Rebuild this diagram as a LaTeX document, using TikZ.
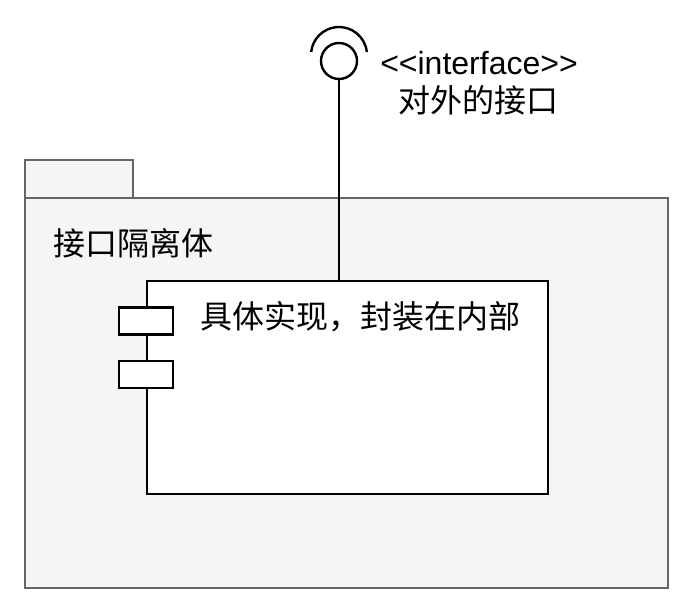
\documentclass[tikz,border=0pt]{standalone}
\usepackage{fontspec}
\usepackage{xcolor}
\newfontfamily\uifont{Liberation Sans}
\newfontfamily\cjk{Noto Sans CJK SC}
\definecolor{pkgfill}{HTML}{F5F5F5}
\definecolor{pkgline}{HTML}{666666}

\begin{document}
\begin{tikzpicture}[x=0.5pt,y=0.5pt,line width=1.2pt,
    pkg/.style={draw=pkgline,fill=pkgfill,line width=1pt},
    label text/.style={font=\cjk\fontsize{16}{19}\selectfont,inner sep=0pt},
    comp/.style={draw,fill=white,rectangle,inner sep=0pt,
        minimum width=200.5pt,minimum height=106.5pt},
    port/.style={draw,fill=white,rectangle,inner sep=0pt,
        minimum width=27pt,minimum height=13.5pt}]

        \useasboundingbox (0,0) rectangle (690,606);

        % ------------------------------------------------ package frame
        \draw[pkg] (25,446) rectangle (133,408);
        \draw[pkg] (25,408) rectangle (668,18);
        \node[label text,anchor=west] (pkgname) at (52,363) {接口隔离体};

        % ------------------------------------------------ component with ports
        \node[comp] (impl) at (347.5,218.5) {};
        \node[label text,anchor=west] (implname) at (199,289) {具体实现，封装在内部};
        \node[port] (porta) at (146,285) {};
        \node[port] (portb) at (146,231.5) {};

        % ------------------------------------------------ provided interface
        \node[draw,circle,inner sep=0pt,minimum size=18pt] (lolly) at (339,545) {};
        \draw (339,551) ++(6:28) arc[start angle=6,end angle=174,radius=28];
        \draw (lolly.south) -- (impl.north -| lolly.south);

        \node[font=\uifont\fontsize{16}{19}\selectfont,inner sep=0pt] (stereo) at (479,543)
            {<{}<interface>{}>};
        \node[label text] (ifacename) at (478,506) {对外的接口};

        \end{tikzpicture}
\end{document}
